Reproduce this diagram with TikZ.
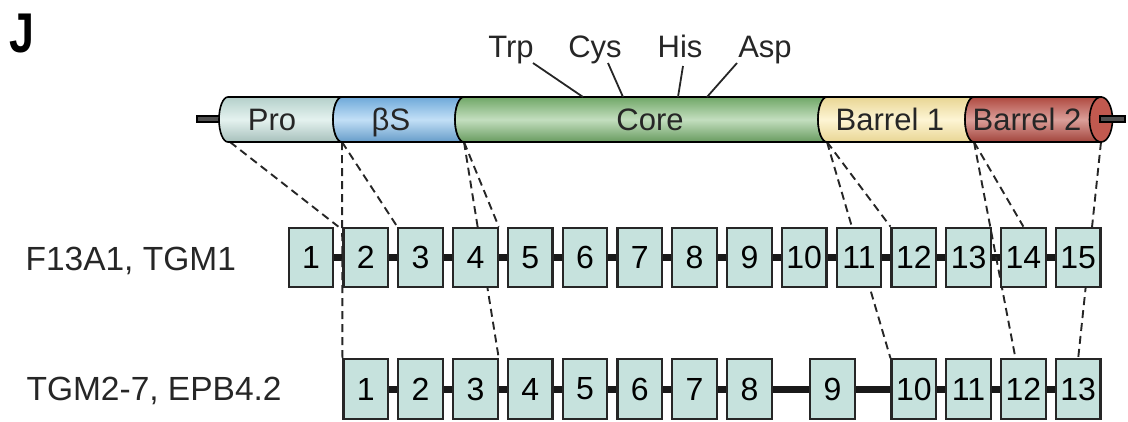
\documentclass[tikz,border=0pt]{standalone}
\usepackage{fontspec}
\setmainfont{Liberation Sans}
\usetikzlibrary{calc}
\pgfdeclarelayer{background}
\pgfsetlayers{background,main}

\definecolor{exonfill}{RGB}{198,226,221}
\definecolor{procol}{RGB}{196,226,220}
\definecolor{bscol}{RGB}{120,184,236}
\definecolor{corecol}{RGB}{122,182,112}
\definecolor{barrelA}{RGB}{252,232,160}
\definecolor{barrelB}{RGB}{190,80,70}
\definecolor{rodcol}{RGB}{80,80,80}

% one shaded slice of the protein cylinder, between two "(" boundaries
\newcommand\cylseg[4][85]{%
  \path[seg, top color=#4!92!black, bottom color=#4!#1!black, middle color=#4!45!white]
    (#2,97) -- (#3,97) arc[start angle=270, end angle=90, x radius=9, y radius=22.5]
    -- (#2,142) arc[start angle=90, end angle=270, x radius=9, y radius=22.5] -- cycle;}

\begin{document}
\begin{tikzpicture}[x=1pt, y=-1pt,
  exon/.style={draw=black!85, line width=2.2pt, fill=exonfill, minimum width=44.5pt,
    minimum height=59.5pt, inner sep=0pt, font=\fontsize{32}{36}\selectfont},
  intron/.style={line width=7pt, black!90},
  mapline/.style={dash pattern=on 8pt off 5pt, line width=1.9pt, black!85},
  seg/.style={draw=black, line width=1.6pt},
  rod/.style={draw=black, line width=1.2pt, fill=rodcol},
  dom/.style={anchor=base, font=\fontsize{31}{34}\selectfont, text=black!85},
  res/.style={anchor=base, font=\fontsize{31}{34}\selectfont, text=black!85},
  tick/.style={line width=1.8pt, black!85},
  rowlab/.style={anchor=base west, font=\fontsize{33.5}{38}\selectfont, text=black!85}]

\useasboundingbox (0,0) rectangle (1128,421);

% panel letter
\node[anchor=base west, inner sep=0pt, xscale=0.8, font=\fontsize{56}{60}\selectfont\bfseries] (panel) at (9,52) {J};

% ---- protein cylinder ----
\path[rod] (197,116) rectangle (224,122);
\cylseg{228}{342}{procol}
\cylseg{342}{464}{bscol}
\cylseg{464}{827}{corecol}
\cylseg[92]{827}{974}{barrelA}
\path[seg, top color=barrelB!92!black, bottom color=barrelB!85!black, middle color=barrelB!55!white]
  (974,97) -- (1101,97) -- (1101,142) -- (974,142)
  arc[start angle=90, end angle=270, x radius=9, y radius=22.5] -- cycle;
\path[seg, fill=barrelB!95!white] (1101,119.5) ellipse[x radius=11.5, y radius=22.5];
\path[rod] (1100,116) rectangle (1125,122);

\node[dom] (pro)  at (272,130) {Pro};
\node[dom] (bs)   at (391,130) {βS};
\node[dom] (core) at (650,130) {Core};
\node[dom] (bar1) at (890,130) {Barrel 1};
\node[dom] (bar2) at (1027,130) {Barrel 2};

% catalytic residues
\node[res] (trp) at (511,57) {Trp};
\node[res] (cys) at (595,57) {Cys};
\node[res] (his) at (680,57) {His};
\node[res] (asp) at (765,57) {Asp};
\coordinate (trpA) at (533,63);  \coordinate (trpB) at (583,97);
\coordinate (cysA) at (608,63);  \coordinate (cysB) at (623,97);
\coordinate (hisA) at (683,66);  \coordinate (hisB) at (678,97);
\coordinate (aspA) at (737,63);  \coordinate (aspB) at (707,97);
\draw[tick] (trpA) -- (trpB);
\draw[tick] (cysA) -- (cysB);
\draw[tick] (hisA) -- (hisB);
\draw[tick] (aspA) -- (aspB);

% domain boundaries on the lower edge of the cylinder
\coordinate (proB)  at (230,142);
\coordinate (bsB)   at (342,142);
\coordinate (coreB) at (464,142);
\coordinate (barAB) at (827,142);
\coordinate (barBB) at (974,142);
\coordinate (endB)  at (1101,142);

% ---- exon rows ----
\node[rowlab] (rowA) at (22,270) {F13A1, TGM1};
\node[rowlab] (rowB) at (23,400) {TGM2-7, EPB4.2};

\foreach \i in {1,...,15}
  \node[exon] (t\i) at ({311+(\i-1)*54.8}, 257.5) {\i};
\foreach \i in {1,...,8}
  \node[exon] (b\i) at ({311+\i*54.8}, 389) {\i};
\node[exon] (b9) at (832.5,389) {9};
\foreach \i in {10,...,13}
  \node[exon] (b\i) at ({311+(\i+1)*54.8}, 389) {\i};

\begin{pgfonlayer}{background}
  \foreach \i/\j in {1/2,2/3,3/4,4/5,5/6,6/7,7/8,8/9,9/10,10/11,11/12,12/13,13/14,14/15}
    \draw[intron] (t\i.east) -- (t\j.west);
  \foreach \i/\j in {1/2,2/3,3/4,4/5,5/6,6/7,7/8,8/9,9/10,10/11,11/12,12/13}
    \draw[intron] (b\i.east) -- (b\j.west);

  \draw[mapline] (proB)  -- ($(t1.north east)!0.5!(t2.north west)$);
  \draw[mapline] (bsB)   -- (b1.north west);
  \draw[mapline] (bsB)   -- (t3.north west);
  \draw[mapline] (coreB) -- (t4.north east);
  \draw[mapline] (coreB) -- (b3.north east);
  \draw[mapline] (barAB) -- (t12.north west);
  \draw[mapline] (barAB) -- (b10.north west);
  \draw[mapline] (barBB) -- (t14.north);
  \draw[mapline] (barBB) -- ($(b12.north west)!0.33!(b12.north east)$);
  \draw[mapline] (endB)  -- (b13.north);
\end{pgfonlayer}

\end{tikzpicture}
\end{document}
